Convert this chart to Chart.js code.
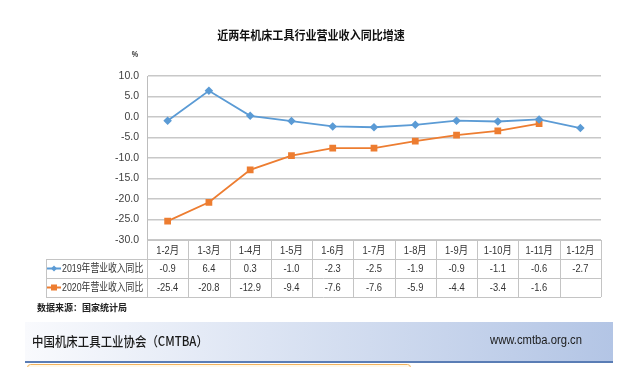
<!DOCTYPE html>
<html>
<head>
<meta charset="utf-8">
<script src="https://cdn.jsdelivr.net/npm/chart.js@4/dist/chart.umd.min.js"></script>
<style>
  body { margin: 0; background: #ffffff; }
  #wrap { position: relative; width: 618px; height: 367px; }
</style>
</head>
<body>
<div id="wrap"><canvas id="chart" width="618" height="367"></canvas></div>
<script>
// ---- data ----
const months = ["1-2月", "1-3月", "1-4月", "1-5月", "1-6月", "1-7月", "1-8月", "1-9月", "1-10月", "1-11月", "1-12月"];
const rev2019 = [-0.9, 6.4, 0.3, -1.0, -2.3, -2.5, -1.9, -0.9, -1.1, -0.6, -2.7];
const rev2020 = [-25.4, -20.8, -12.9, -9.4, -7.6, -7.6, -5.9, -4.4, -3.4, -1.6, null];
const seriesNames = ["2019年营业收入同比", "2020年营业收入同比"];
const yMin = -30;
const yMax = 10;
const yStep = 5;

const BLUE = "#5b9bd5";
const ORANGE = "#ed7d31";
const LAT = '"Liberation Sans", "Noto Sans CJK SC", sans-serif';
const CJK = '"Noto Sans CJK SC", sans-serif';

// draw condensed text
function txt(ctx, s, x, y, font, color, align, sx) {
    ctx.save();
    ctx.font = font;
    ctx.fillStyle = color;
    ctx.textAlign = align;
    ctx.textBaseline = "middle";
    ctx.translate(x, y);
    ctx.scale(sx, 1);
    ctx.fillText(s, 0, 0);
    ctx.restore();
}

function marker(ctx, style, x, y, color) {
    ctx.save();
    ctx.fillStyle = color;
    ctx.strokeStyle = color;
    ctx.lineWidth = 2;
    ctx.beginPath();
    ctx.moveTo(x - 7, y);
    ctx.lineTo(x + 7, y);
    ctx.stroke();
    ctx.beginPath();
    if (style === "diamond") {
        ctx.moveTo(x, y - 3); ctx.lineTo(x + 3, y); ctx.lineTo(x, y + 3); ctx.lineTo(x - 3, y);
        ctx.closePath();
        ctx.fill();
    } else {
        ctx.fillRect(x - 3, y - 3, 6, 6);
    }
    ctx.restore();
}

// background: banner + footer box
const backdrop = {
    id: "backdrop",
    beforeDraw(chart) {
        const ctx = chart.ctx;
        ctx.save();
        ctx.fillStyle = "#ffffff";
        ctx.fillRect(0, 0, chart.width, chart.height);

        const g = ctx.createLinearGradient(25, 0, 613, 0);
        g.addColorStop(0, "#f9fafd");
        g.addColorStop(1, "#b3c5e5");
        ctx.fillStyle = g;
        ctx.fillRect(25, 322, 588, 39);
        ctx.fillStyle = "#5a7db5";
        ctx.fillRect(25, 361, 588, 2);

        ctx.fillStyle = "#fff9ea";
        ctx.strokeStyle = "#f2b25c";
        ctx.lineWidth = 1;
        ctx.beginPath();
        ctx.roundRect(27.5, 364.5, 383, 12, 3);
        ctx.fill();
        ctx.stroke();
        ctx.restore();
    }
};

// title, unit, data table, footer texts
const overlay = {
    id: "overlay",
    afterDraw(chart) {
        const ctx = chart.ctx;
        const x = chart.scales.x;
        const area = chart.chartArea;
        const left = area.left, right = area.right;
        const tableLeft = 46;
        const rows = [area.bottom, 259, 278, 297];

        txt(ctx, "近两年机床工具行业营业收入同比增速", 311, 35, "bold 12px " + CJK, "#111111", "center", 0.92);
        txt(ctx, "%", 135, 55, "bold 9px " + LAT, "#333333", "center", 0.8);

        // grid of the table
        ctx.save();
        ctx.strokeStyle = "#c4c4c4";
        ctx.lineWidth = 1;
        ctx.beginPath();
        ctx.moveTo(left, rows[0] + 0.5); ctx.lineTo(right, rows[0] + 0.5);
        for (let r = 1; r < rows.length; r++) {
            ctx.moveTo(tableLeft, rows[r] + 0.5);
            ctx.lineTo(right, rows[r] + 0.5);
        }
        ctx.moveTo(tableLeft + 0.5, rows[1]); ctx.lineTo(tableLeft + 0.5, rows[3]);
        const step = (right - left) / months.length;
        for (let i = 0; i <= months.length; i++) {
            const px = Math.round(left + step * i) + 0.5;
            ctx.moveTo(px, rows[0]); ctx.lineTo(px, rows[3]);
        }
        ctx.stroke();
        ctx.restore();

        const cellFont = "11px " + LAT;
        months.forEach((m, i) => {
            const cx = x.getPixelForValue(i);
            txt(ctx, m, cx, (rows[0] + rows[1]) / 2 + 1, cellFont, "#333333", "center", 0.85);
            const a = rev2019[i];
            const b = rev2020[i];
            if (a !== null) txt(ctx, a.toFixed(1), cx, (rows[1] + rows[2]) / 2 + 0.5, cellFont, "#333333", "center", 0.85);
            if (b !== null) txt(ctx, b.toFixed(1), cx, (rows[2] + rows[3]) / 2 + 0.5, cellFont, "#333333", "center", 0.85);
        });

        marker(ctx, "diamond", 54, (rows[1] + rows[2]) / 2, BLUE);
        marker(ctx, "rect", 54, (rows[2] + rows[3]) / 2, ORANGE);
        txt(ctx, seriesNames[0], 62, (rows[1] + rows[2]) / 2 + 0.5, cellFont, "#333333", "left", 0.8);
        txt(ctx, seriesNames[1], 62, (rows[2] + rows[3]) / 2 + 0.5, cellFont, "#333333", "left", 0.8);

        txt(ctx, "数据来源：国家统计局", 37, 308, "bold 9px " + CJK, "#222222", "left", 1.0);
        txt(ctx, "中国机床工具工业协会（CMTBA）", 32, 341, "500 13px " + CJK, "#1a1a1a", "left", 0.88);
        txt(ctx, "www.cmtba.org.cn", 582, 341, "12.5px " + LAT, "#1a1a1a", "right", 0.9);
    }
};

const ctx = document.getElementById("chart").getContext("2d");

const chart = new Chart(ctx, {
    type: "line",
    data: {
        labels: months,
        datasets: [
            {
                label: seriesNames[0],
                data: rev2019,
                borderColor: BLUE,
                backgroundColor: BLUE,
                borderWidth: 1.8,
                pointStyle: "rectRot",
                pointRadius: 3,
                pointHoverRadius: 3,
                tension: 0,
                fill: false
            },
            {
                label: seriesNames[1],
                data: rev2020,
                borderColor: ORANGE,
                backgroundColor: ORANGE,
                borderWidth: 1.8,
                pointStyle: "rect",
                pointRadius: 3.5,
                pointHoverRadius: 3.5,
                tension: 0,
                fill: false
            }
        ]
    },
    options: {
        responsive: false,
        animation: false,
        layout: {
            padding: { top: 76, bottom: 127, right: 17, left: 0 }
        },
        plugins: {
            legend: { display: false },
            title: { display: false },
            tooltip: { enabled: false }
        },
        scales: {
            x: {
                display: false,
                offset: true
            },
            y: {
                min: yMin,
                max: yMax,
                afterFit(scale) {
                    scale.width = 147;
                },
                ticks: {
                    stepSize: yStep,
                    padding: 8,
                    color: "#404040",
                    font: { family: LAT, size: 10.5 },
                    callback: v => v.toFixed(1)
                },
                grid: {
                    color: "#c8c8c8",
                    lineWidth: 1.5,
                    drawTicks: false
                },
                border: {
                    display: true,
                    color: "#bdbdbd",
                    width: 1
                }
            }
        }
    },
    plugins: [backdrop, overlay]
});
</script>
</body>
</html>
